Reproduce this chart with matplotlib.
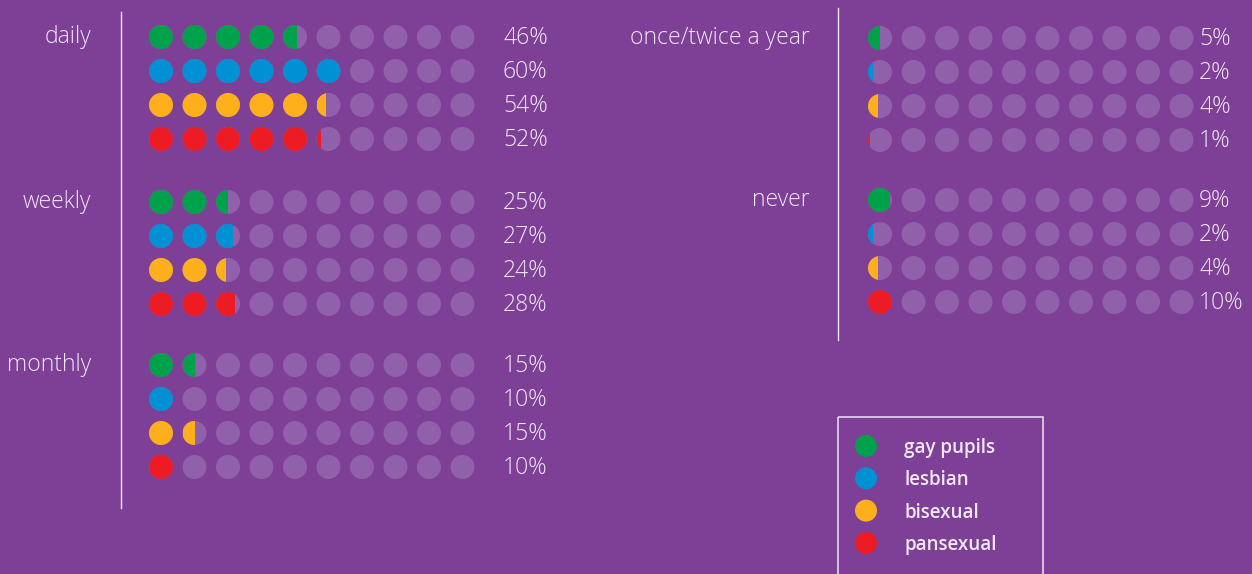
import matplotlib
matplotlib.use('Agg')
import matplotlib.pyplot as plt
from matplotlib.patches import Circle, Rectangle

# data
frequencies = ['daily', 'weekly', 'monthly', 'once/twice a year', 'never']
groups = ['gay pupils', 'lesbian', 'bisexual', 'pansexual']
gay = [46, 25, 15, 5, 9]
lesbian = [60, 27, 10, 2, 2]
bisexual = [54, 24, 15, 4, 4]
pansexual = [52, 28, 10, 1, 10]

BG = '#7e3f96'
EMPTY = '#9160aa'
colors = ['#00a14b', '#0091d5', '#fdb01b', '#ed1c24']
TXT = '#f1e9f5'
FONT = 'Open Sans'

fig = plt.figure(figsize=(12.52, 5.74), dpi=100, facecolor=BG)
ax = fig.add_axes([0, 0, 1, 1])
ax.set_facecolor(BG)
ax.set_xlim(0, 1252)
ax.set_ylim(574, 0)
ax.axis('off')

R = 12
STEP = 33.5
ROW = 34
# panel layout: (frequency index, label right x, first dot x, pct x, top y)
panels = [
    (0, 91, 161, 503, 37),
    (1, 91, 161, 503, 202),
    (2, 91, 161, 503, 365),
    (3, 810, 880, 1199, 38),
    (4, 810, 880, 1199, 200),
]
series = [gay, lesbian, bisexual, pansexual]


def dot_row(x0, y, value, color):
    full = value // 10
    frac = (value % 10) / 10.0
    for k in range(10):
        cx = x0 + k * STEP
        ax.add_patch(Circle((cx, y), R, facecolor=EMPTY, edgecolor='none'))
        if k < full:
            ax.add_patch(Circle((cx, y), R, facecolor=color, edgecolor='none'))
        elif k == full and frac > 0:
            c = Circle((cx, y), R, facecolor=color, edgecolor='none')
            ax.add_patch(c)
            clip = Rectangle((cx - R, y - R), 2 * R * frac, 2 * R,
                             transform=ax.transData)
            c.set_clip_path(clip)


for fi, lx, x0, px, y0 in panels:
    ax.text(lx, y0, frequencies[fi], ha='right', va='center',
            color=TXT, fontsize=16.5, family=FONT, fontweight='light')
    for si, s in enumerate(series):
        y = y0 + si * ROW
        dot_row(x0, y, s[fi], colors[si])
        ax.text(px, y + 1, '%d%%' % s[fi], ha='left', va='center',
                color=TXT, fontsize=16.5, family=FONT, fontweight='light')

# divider lines
ax.plot([121, 121], [12, 508], color=TXT, lw=1)
ax.plot([838, 838], [8, 340], color=TXT, lw=1)

# legend
ax.add_patch(Rectangle((838, 417), 205, 170, facecolor='none',
                       edgecolor='#e6d8ee', lw=1.2))
for i, g in enumerate(groups):
    y = 446 + i * 32.3
    ax.add_patch(Circle((866, y), 11, facecolor=colors[i], edgecolor='none'))
    ax.text(904, y + 2, g, ha='left', va='center', color=TXT,
            fontsize=13.5, family=FONT, fontweight='semibold')

fig.savefig('out.png', dpi=100, facecolor=BG)
